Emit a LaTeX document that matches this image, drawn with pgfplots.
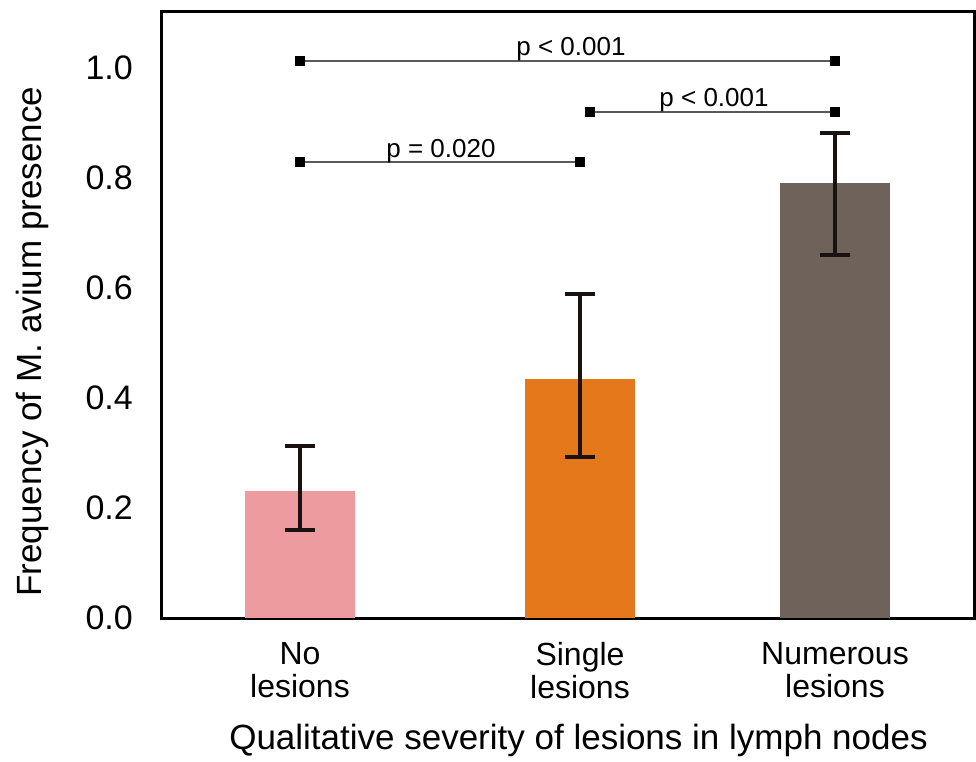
\documentclass[border=0pt]{standalone}
\usepackage{pgfplots}
\pgfplotsset{compat=1.18}
\usepackage{fontspec}
\setmainfont{Liberation Sans}
\definecolor{barpink}{RGB}{238,155,160}
\definecolor{barorange}{RGB}{229,120,26}
\definecolor{barbrown}{RGB}{111,98,90}
\definecolor{errcol}{RGB}{26,18,16}
\definecolor{siggray}{RGB}{90,90,90}
\begin{document}
\begin{tikzpicture}
\begin{axis}[
  scale only axis, width=812pt, height=606pt,
  xmin=162, xmax=974, ymin=0, ymax=1.1018,
  axis line style={line width=3pt, black},
  major tick length=0pt,
  xtick={300,580,835},
  xticklabels={{No\\lesions},{Single\\lesions},{Numerous\\lesions}},
  xticklabel style={align=center, font=\fontsize{32}{33}\selectfont, anchor=north, inner sep=0pt, yshift=-24pt},
  ytick={0,0.2,0.4,0.6,0.8,1.0},
  yticklabels={0.0,0.2,0.4,0.6,0.8,1.0},
  yticklabel style={font=\fontsize{34}{38}\selectfont, anchor=east, inner sep=0pt, xshift=-29pt},
  xlabel={Qualitative severity of lesions in lymph nodes},
  xlabel style={at={(axis description cs:0.5129,-0.2178)}, anchor=base, inner sep=0pt, font=\fontsize{35}{40}\selectfont},
  ylabel={Frequency of M. avium presence},
  ylabel style={at={(axis description cs:-0.1478,0.456)}, rotate=0, anchor=base, inner sep=0pt, font=\fontsize{35}{40}\selectfont},
  ybar, bar width=110pt, bar shift=0pt,
  error bars/y dir=both, error bars/y explicit,
  error bars/error bar style={line width=4pt, color=errcol},
  error bars/error mark options={rotate=90, line width=4pt, color=errcol, mark size=15pt},
  clip=false,
]
\addplot[fill=barpink, draw=none] coordinates {(300,0.2309) += (0,0.0818) -= (0,0.0709)};
\addplot[fill=barorange, draw=none] coordinates {(580,0.4345) += (0,0.1545) -= (0,0.1418)};
\addplot[fill=barbrown, draw=none] coordinates {(835,0.7909) += (0,0.0909) -= (0,0.1309)};
% significance brackets
\addplot[sharp plot, error bars/y dir=none, line width=1.3pt, siggray, mark=square*, mark size=4pt, mark options={fill=black, draw=black}] coordinates {(300,0.829) (580,0.829)};
\addplot[sharp plot, error bars/y dir=none, line width=1.3pt, siggray, mark=square*, mark size=4pt, mark options={fill=black, draw=black}] coordinates {(590,0.92) (835,0.92)};
\addplot[sharp plot, error bars/y dir=none, line width=1.3pt, siggray, mark=square*, mark size=4pt, mark options={fill=black, draw=black}] coordinates {(300,1.0127) (835,1.0127)};
\node[anchor=base, inner sep=0pt, font=\fontsize{26}{29}\selectfont] at ([yshift=5pt]axis cs:441,0.829) {p = 0.020};
\node[anchor=base, inner sep=0pt, font=\fontsize{26}{29}\selectfont] at ([yshift=5pt]axis cs:714,0.92) {p < 0.001};
\node[anchor=base, inner sep=0pt, font=\fontsize{26}{29}\selectfont] at ([yshift=5pt]axis cs:571,1.0127) {p < 0.001};
\end{axis}
\path[use as bounding box] (current axis.south west) ++(-162pt,-144pt) rectangle ([shift={(2pt,12pt)}]current axis.north east);
\end{tikzpicture}
\end{document}
